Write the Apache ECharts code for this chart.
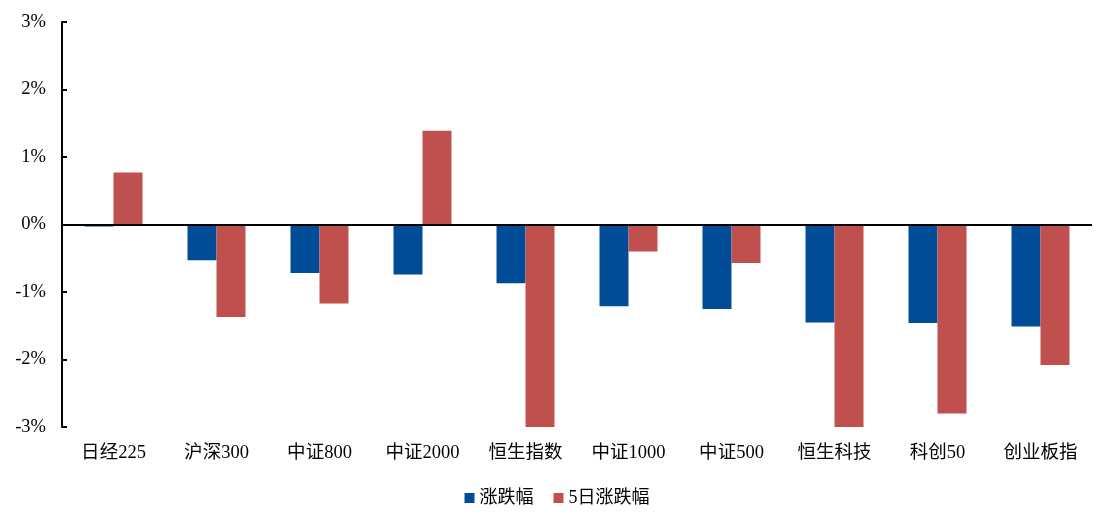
<!DOCTYPE html>
<html>
<head>
<meta charset="utf-8">
<script src="https://cdn.jsdelivr.net/npm/echarts@6/dist/echarts.min.js"></script>
<style>
  html, body { margin: 0; padding: 0; background: #fff; }
  #chart { width: 1114px; height: 524px; }
</style>
</head>
<body>
<div id="chart"></div>
<script>
// 指数名称
const categories = ['日经225', '沪深300', '中证800', '中证2000', '恒生指数', '中证1000', '中证500', '恒生科技', '科创50', '创业板指']
// 当日涨跌幅(%)
const dailyChange = [-0.03, -0.53, -0.72, -0.74, -0.87, -1.21, -1.25, -1.45, -1.46, -1.51]
// 5日涨跌幅(%)
const fiveDayChange = [0.77, -1.37, -1.17, 1.39, -3.0, -0.40, -0.57, -3.0, -2.80, -2.08]
const yTicks = [-3, -2, -1, 0, 1, 2, 3]

const FONT = '"Liberation Serif", "Noto Sans CJK SC", serif'

const chart = echarts.init(document.getElementById('chart'))

const option = {
  animation: false,
  grid: { left: 62, right: 22, top: 22, bottom: 97 },
  legend: {
    top: 484,
    left: 'center',
    itemWidth: 10,
    itemHeight: 10,
    itemGap: 20,
    icon: 'rect',
    textStyle: { fontFamily: FONT, fontSize: 18, color: '#000' },
    data: ['涨跌幅', '5日涨跌幅']
  },
  xAxis: {
    type: 'category',
    data: categories,
    axisLine: { show: false, onZero: false },
    axisTick: { show: false },
    axisLabel: { fontFamily: FONT, fontSize: 18.5, color: '#000', margin: 17 }
  },
  yAxis: {
    type: 'value',
    min: yTicks[0],
    max: yTicks[yTicks.length - 1],
    interval: 1,
    axisLine: { show: true, lineStyle: { color: '#000', width: 2 } },
    axisTick: { show: true, inside: true, length: 5, lineStyle: { color: '#000', width: 2 } },
    splitLine: { show: false },
    axisLabel: {
      fontFamily: FONT, fontSize: 18.5, color: '#000', margin: 16,
      formatter: v => v + '%'
    }
  },
  series: [
    {
      name: '涨跌幅',
      type: 'bar',
      data: dailyChange,
      barWidth: 29,
      barGap: '0%',
      itemStyle: { color: '#004C97' },
      markLine: {
        silent: true,
        symbol: 'none',
        label: { show: false },
        lineStyle: { color: '#000', width: 2, type: 'solid' },
        data: [{ yAxis: 0 }]
      }
    },
    {
      name: '5日涨跌幅',
      type: 'bar',
      data: fiveDayChange,
      barWidth: 29,
      barGap: '0%',
      itemStyle: { color: '#C0504D' }
    }
  ]
}

chart.setOption(option)
</script>
</body>
</html>
